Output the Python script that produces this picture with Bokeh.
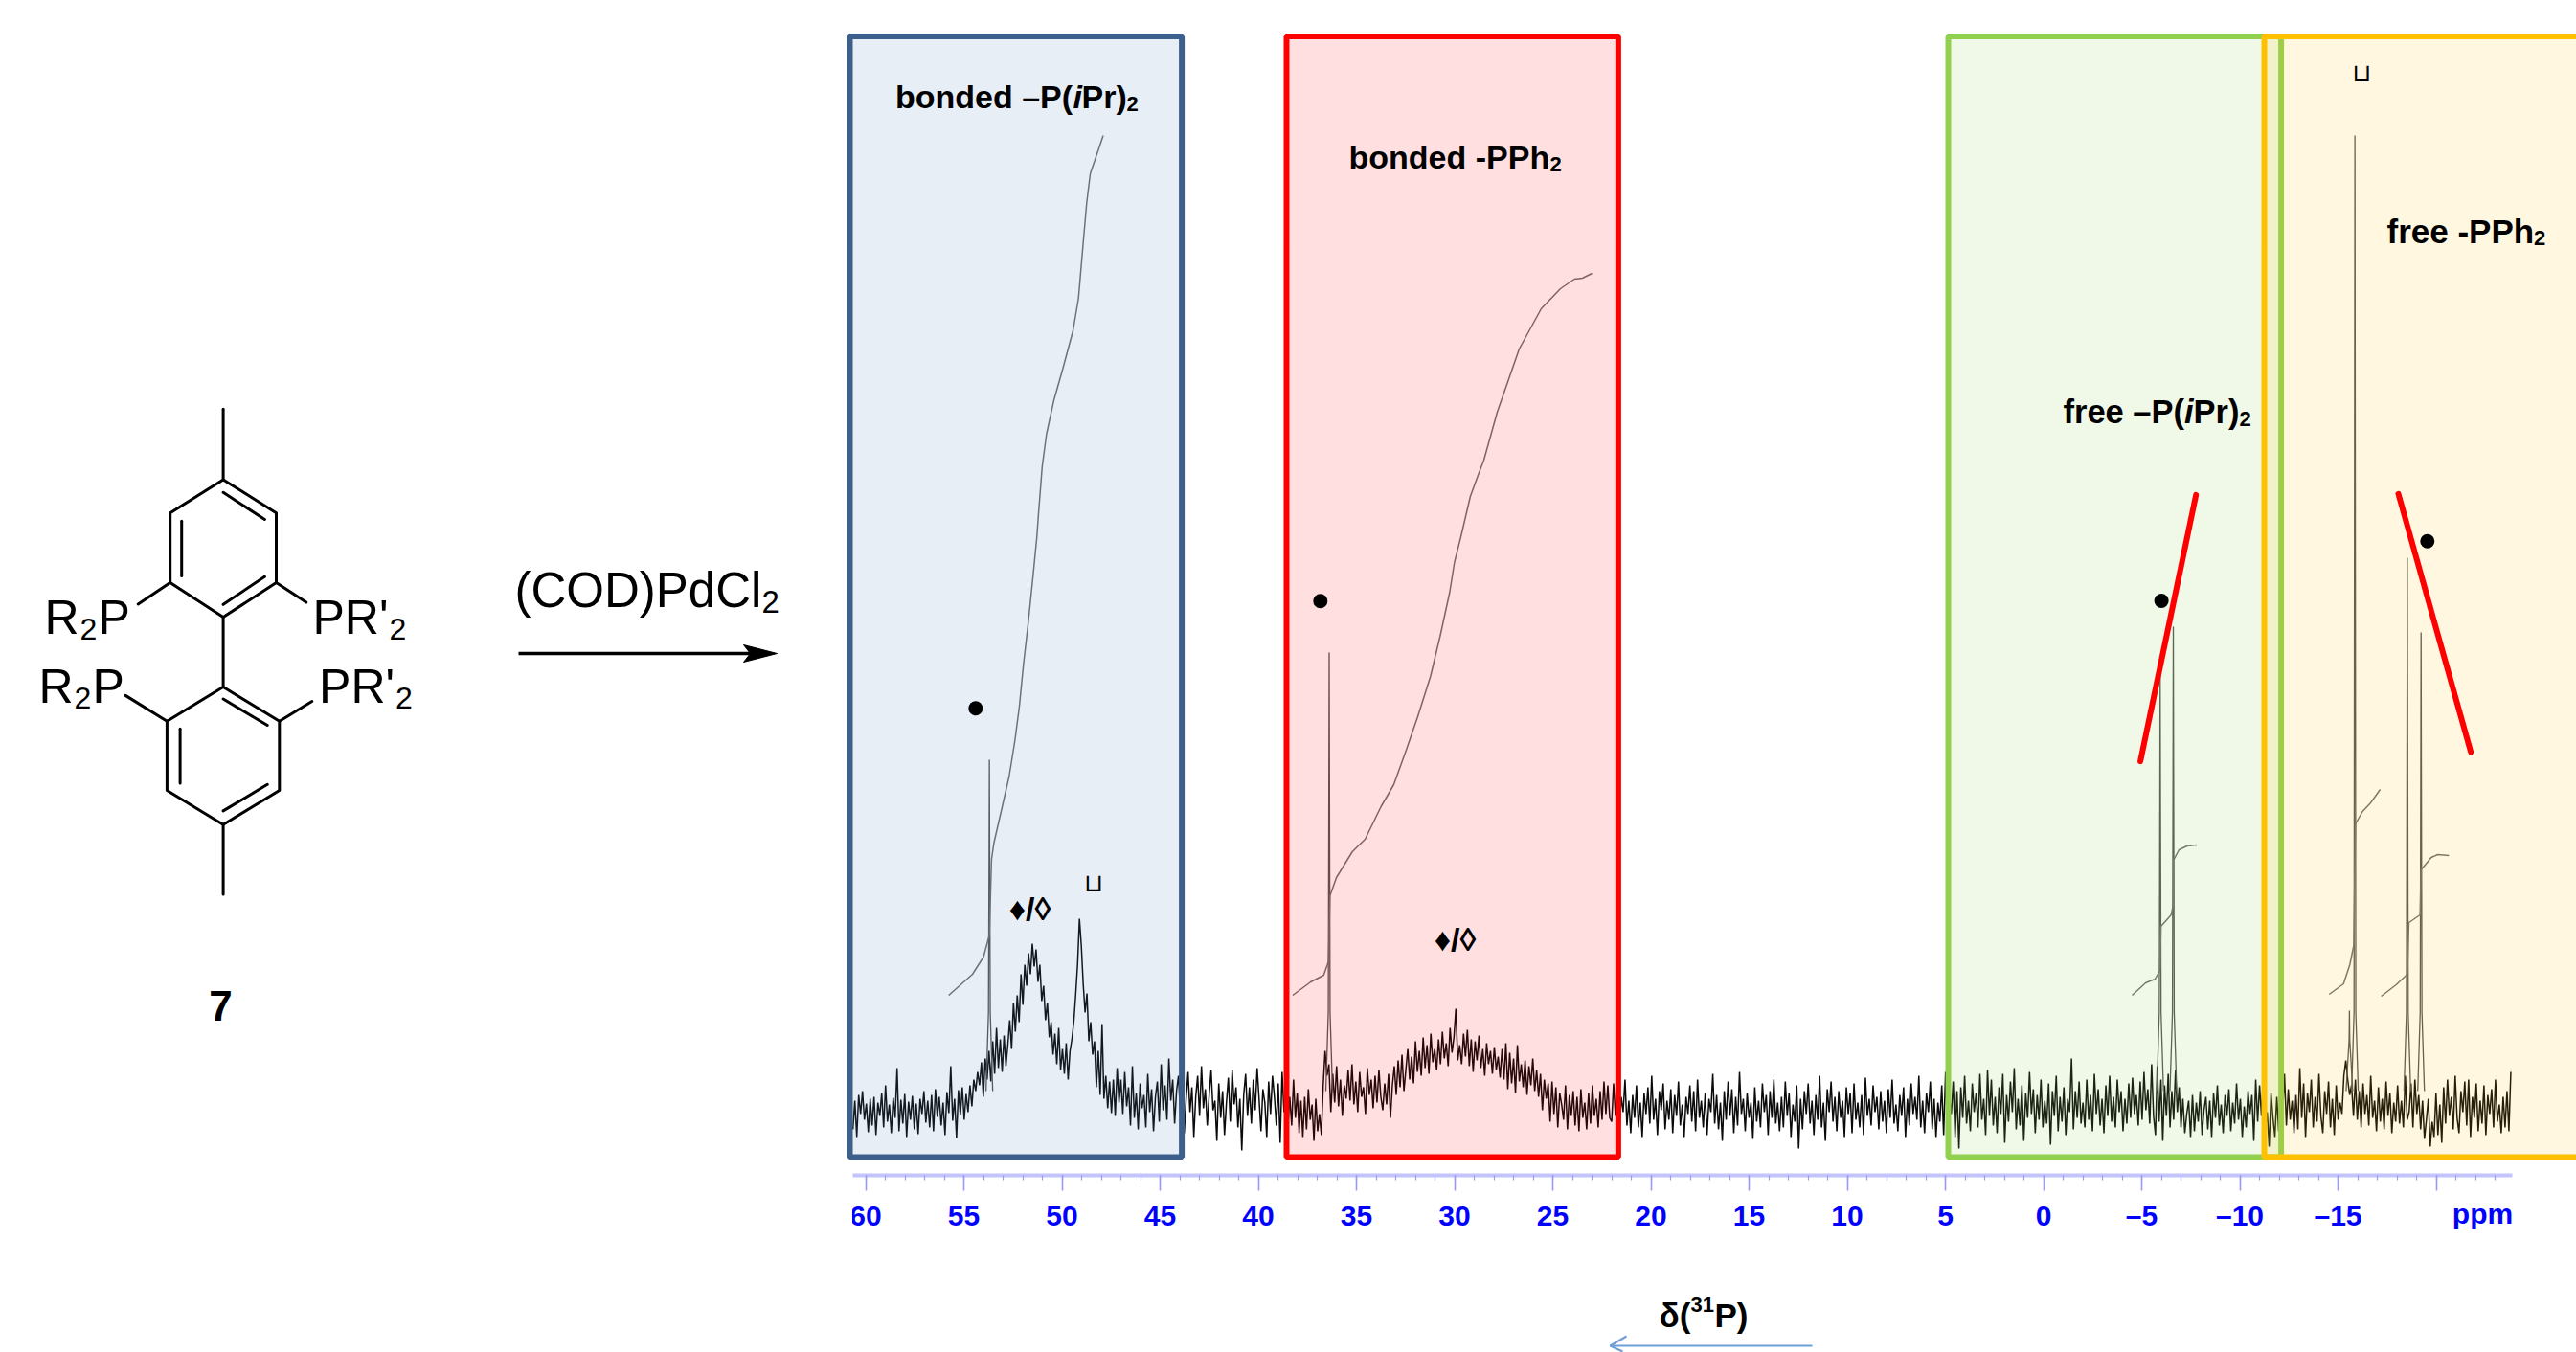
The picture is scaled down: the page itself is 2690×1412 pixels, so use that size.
from bokeh.plotting import figure
from bokeh.models import Range1d, LinearAxis, FixedTicker
from bokeh.core.properties import value
from bokeh.embed import file_html
from bokeh.resources import INLINE
import numpy as np

# ---------------- layout of the page ----------------
W, H = 2690, 1412
PX_PER_PPM = 20.5
PPM0_X = 2133.5          # picture x of 0 ppm
BASE_Y = 1157            # picture y of zero intensity
AXIS_Y = 1227
FONT = "Liberation Sans"
INK = "#000000"

# ---------------- spectrum baseline, by ppm segment ----------------
seg_a = [-22,8,-30,14,-6,18,-12,5,-25,10,-18,12,-28,6,-8,16,-20,24,-14,4,-26,11,-10,42,-24,9,-16,15,-30,7,-12,13,-22,5,-27,10,-6,18,-15,8,-20,14,-24,20,-9,12,-18,6,-28,17,-5,44,-13,10,-31,19,-7,22,-12,15,-4,24,2,30,18,38]
seg_b = [24,48,12,52,30,60,28,70,36,84,42,72,38,76,44,66,92,62,110,80,118,90,140,108,150,128,162,140,172,148,166,132,150,112,128,92,110,74,90,56,78,46,84,40,62,36,68,30,60,72,90,118,150,198,170,130,100,120,70,90,56,70,22,60,14,88,10,34,0,28,-5,30,-8,42,6]
seg_c = [30,-6,38,2,22,-18,44,-10,16,-22,26,0,14,-20,36,-4,20,-24,12,28,-14,46,-2,24,-12,52,8,30,-16,18,34,-6,16,-26,10,38,-4,22,-30,12,34,-8,44,0,20,-18,14,40,-2,8,-34,26,-10,18,-28,6,32,-14,40,4,22,-20,10,-44,14,36,-8,22,-16,30,-2,42,10,-24,20,6,-30,28,-6,34,12,-18,26,-36,38,-4,16,-20,12]
seg_d = [-18,30,-10,16,-26,8,-30,12,-22,20,-12,4,-34,10,-24,-6,-28,24]
seg_e = [60,34,46,-4,36,6,44,2,30,-8,24,10,40,8,46,4,28,-4,38,12,22,-6,42,14,30,0,34,6,40,12,-2,26,4,36,-10,24,44,14,50,22,56,18,40,62,30,54,26,70,38,60,34,74,42,66,36,78,48,62,40,72,46,80,52,68,44,84,58,74,104,50,66,46,78,54,82,44,72,38,70,50,76,42,62,34,68,46,60,36,64,40,54,32,62,30,68,20,58,26,52,16,66,28,46,22,50,14,44,24,52,18,40,12,36,-2,30,10,26,-14,28,-6,22,-20,16,4,-12,24,-22,14,-8,18,-18,12,-24,20,-10,6,-22,16,-16,24,-8,10,-20,18,-12,28,-6,24,-10]
seg_f = [-14,26,-8,18,-24,12,-4,30,-18,8,-26,14,-10,24,-20,6,-30,16,-6,22,-16,34,-12,10,-28,18,-2,26,-22,8,-12,20,-26,14,-8,28,-18,4,-30,12,-6,24,-14,18,-24,30,-10,8,-20,16,-28,10,-4,36,-16,14,-22,6,-34,18,-12,28,-8,20,-26,12,-18,38,-6,10,-24,16,-10,6,-32,22,-14,8,-20,26,-4,14,-28,18,-10,30,-16,6,-24,12,-20,28,-8,16,-30,4,-14,24,-42,10,-22,18,-6,26,-16,8,-28,14,-12,34,-20,6,-34,20,-4,28,-14,12,-24,18,-10,8,-30,22,-6,16,-26,26,-12,6,-20,14,-28,32,-8,10,-18,24,-4,12,-22,18,-14,8,-26,20,-10,30,-16,4,-24,14,-8,22,-30,10,-18,26,-6,12,-12,34,-20,8,-26,16,-4,28,-22,10,-30,6,-14,24,-28,38,-32,12]
seg_g = [-6,28,-30,18,-42,22,-10,34,-16,8,-24,26,-4,16,-20,36,-12,10,-28,40,-8,30,-18,12,-26,22,-6,36,-36,14,-14,28,-4,42,-22,10,-18,24,-34,16,-10,38,-6,20,-26,14,-12,30,-20,8,-16,26,-38,18,-8,34,-24,12,-14,22,-28,10,-4,52,-22,18,-10,28,-16,6,-20,30,-12,14,-24,36,-6,20,-18,10,-26,24,-8,34,-14,12,-20,30,-4,18,-24,10,-16,26,-10,32,-6,14,-18,28,-12,38,-2,20,-16,46,-8]
seg_h = [-28,44,-14,30,-34,24,-8,36,-20,18,-12,40,-4,22]
seg_i = [-20,10,-26,-6,8,-30,14,-24,6,-14,18,-28,-2,12,-22,8,-30,16,-10,24,-18,4,-26,14,-8,20,-24,6,-16,26,-12,10,-30,2,-20,18,-6,14,-34,30,-14,24,-8,36,-22,-4,-40,16,-10,-30,12,-24,28,-6,36,-18,20,-12,8,-26,14,-22,42,-10,26,-30,16,-4,30,-20,12,-14,36,-8,-26,18,-6,28,-20,10,-28,24,-12,6]
seg_j = [-6,34,50,30,14,24,-8,30,-12,18,-20,26,-6,14,-18,34,-10,8,-24,22,-14,10,-22,28,-8,16,-26,6,-14,24,-16,8,-20,34,-12,-4,26,-20,30,-6,14,-22,8,-32,-12,10,-40,-14,-30,16,-28,4,-36,22,-16,30,-8,12,-22,34,-10,-26,18,-4,28,-18,30,-30,12,-10,26,-24,8,-16,24,-28,14,-6,20,-20,30,-14,4,-26,12,-20,18,-24,38]
segments = [(60.65,54.2,seg_a),(54.2,47.0,seg_b),(47.0,38.3,seg_c),(38.3,36.6,seg_d),(36.6,22.0,seg_e),
            (22.0,4.7,seg_f),(4.7,-5.7,seg_g),(-5.7,-7.0,seg_h),(-7.0,-15.2,seg_i),(-15.2,-23.9,seg_j)]

# sharp peaks: position (ppm) and height
peak_ppm    = [53.70, 36.39, -5.94, -6.61, -15.86, -15.58, -18.53, -19.23]
peak_height = [364,   476,   452,   503,   1016,   102,    575,    497]

# integral curves: ppm, integral height
int1_ppm = [55.77,54.56,54.00,53.70,53.59,53.47,53.10,52.69,52.40,52.17,51.96,51.72,51.47,51.28,51.20,51.01,50.79,50.42,49.95,49.44,49.16,48.97,48.74,48.56,47.90]
int1_val = [118,140,158,181,260,277,310,347,384,420,464,507,557,597,620,670,704,739,773,812,846,892,946,976,1016]
int2_ppm = [38.25,37.33,36.67,36.43,36.35,36.02,35.21,34.56,33.75,33.10,32.45,31.88,31.23,30.74,30.25,30.01,29.68,29.20,28.79,28.51,27.83,26.71,25.59,24.61,23.90,23.49,23.00]
int2_val = [118,132,139,153,222,241,268,281,315,338,375,409,451,493,539,570,597,639,662,677,727,793,835,856,866,867,872]
int3_ppm = [-4.51,-5.20,-5.68,-5.93,-5.98,-6.50,-6.62,-6.62,-6.90,-7.31,-7.80]
int3_val = [118,131,135,144,190,202,214,259,270,274,275]
int4_ppm = [-14.55,-15.28,-15.60,-15.80,-15.89,-16.25,-16.66,-17.15]
int4_val = [119,130,150,170,297,310,319,333]
int5_ppm = [-17.20,-17.96,-18.53,-18.61,-19.18,-19.23,-19.75,-20.08,-20.65]
int5_val = [117,129,140,194,202,249,262,265,264]

tick_major = [60,55,50,45,40,35,30,25,20,15,10,5,0,-5,-10,-15,-20]
tick_minor = [v for v in range(60,-24,-1)]
tick_text = {v: (f"\u2013{-v}" if v < 0 else str(v)) for v in tick_major}
tick_text[-20] = ""

# ---------------- scheme: coloured region boxes ----------------
box_left   = [887, 1343, 2034, 2364]
box_right  = [1233.6, 1689.4, 2381.6, 2720]
box_line   = ["#3c5f8c", "#ff0000", "#92d050", "#ffc000"]
box_fill   = ["#4f81bd", "#ff0000", "#92d050", "#ffc000"]
box_alpha  = [0.135, 0.125, 0.135, 0.12]

# ---------------- scheme: structure 7 (skeleton bonds) ----------------
bond_x = [[232.6,232.6],[232.6,288,288,232.6,177.2,177.2,232.6],[232.6,275.9],[189.2,189.2],[232.6,275.9],
          [177.2,143.7],[288,319.3],[232.6,232.6],
          [232.6,291.3,291.3,232.6,173.9,173.9,232.6],[232.6,278.7],[187.6,187.6],[232.6,278.7],
          [173.9,130.6],[291.3,325.3],[232.6,232.6]]
bond_y = [[426.8,500.4],[500.4,535.3,608,644,608,535.3,500.4],[513.8,542],[543.8,601],[630.8,601.8],
          [608,630.4],[608,628.6],[644,717],
          [717,752.7,825,860.7,825,752.7,717],[729.5,757],[760.7,817.4],[846.4,818.8],
          [752.7,725.9],[752.7,732],[860.7,933.5]]

p = figure(width=W, height=H, output_backend="svg", toolbar_location=None,
           x_axis_type=None, y_axis_type=None, min_border=0,
           x_range=Range1d(0, W), y_range=Range1d(H, 0))
p.outline_line_color = None
p.grid.visible = False
p.background_fill_color = "#ffffff"
p.border_fill_color = "#ffffff"
p.extra_x_ranges["ppm"] = Range1d(PPM0_X / PX_PER_PPM, (PPM0_X - W) / PX_PER_PPM)
p.extra_y_ranges["int"] = Range1d(BASE_Y - H, BASE_Y)

# spectrum
sx, sy = [], []
for a, b, vals in segments:
    sx.extend(np.linspace(a, b, len(vals), endpoint=False).tolist())
    sy.extend(vals)
p.line(sx, sy, x_range_name="ppm", y_range_name="int", line_color="#0a0a0a", line_width=1.5)

# sharp peaks
for c, h in zip(peak_ppm, peak_height):
    m = min(100, h * 0.6)
    p.line([c - 0.17, c - 0.045, c - 0.016, c, c + 0.016, c + 0.045, c + 0.17],
           [18, m, h * 0.7, h, h * 0.7, m, 18],
           x_range_name="ppm", y_range_name="int", line_color="#555555", line_width=1.3)

# integrals
for ix, iy in [(int1_ppm, int1_val), (int2_ppm, int2_val), (int3_ppm, int3_val), (int4_ppm, int4_val), (int5_ppm, int5_val)]:
    p.line(ix, iy, x_range_name="ppm", y_range_name="int", line_color="#707070", line_width=1.5)

# boxes
p.quad(left=box_left, right=box_right, top=[37.5] * 4, bottom=[1208] * 4,
       fill_color=box_fill, fill_alpha=box_alpha, line_color=box_line, line_width=6)

# red guide lines
p.multi_line([[2234.6, 2292.7], [2504, 2579.7]], [[794.6, 516.4], [515.3, 785]],
             line_color="#ff0000", line_width=6, line_cap="round")

# axis
ax = LinearAxis(x_range_name="ppm", fixed_location=AXIS_Y)
ax.ticker = FixedTicker(ticks=tick_major, minor_ticks=tick_minor)
ax.major_label_overrides = tick_text
ax.bounds = (-23.9, 60.65)
ax.axis_line_color = "#c4c4fc"
ax.axis_line_width = 4
ax.major_tick_line_color = "#9a9af5"
ax.major_tick_line_width = 1.6
ax.major_tick_in = 0
ax.major_tick_out = 16
ax.minor_tick_line_color = "#9a9af5"
ax.minor_tick_line_width = 1.2
ax.minor_tick_in = 0
ax.minor_tick_out = 5
ax.major_label_standoff = 9
ax.major_label_text_color = "#0000ff"
ax.major_label_text_font = FONT
ax.major_label_text_font_style = "bold"
ax.major_label_text_font_size = "30px"
p.add_layout(ax, "below")
# left edge of the spectrum image crops the "60"
p.quad(left=[880], right=[889.5], top=[1250], bottom=[1290], fill_color="#ffffff", line_color=None, level="overlay")

# structure
p.multi_line(bond_x, bond_y, line_color=INK, line_width=3, line_join="round", line_cap="round")

# reaction arrow
p.line([541, 785], [682, 682], line_color=INK, line_width=3.5)
p.patch([811, 776, 783, 776], [682, 673, 682, 691], fill_color=INK, line_color=INK, line_width=1)

# dots
p.scatter([1018.3, 1378.3, 2256.6, 2534.3], [739.3, 627.3, 627, 564.7], size=15, marker="circle",
          fill_color=INK, line_color=None)

# axis direction arrow
p.multi_line([[1892, 1681], [1698, 1681, 1694]], [[1405, 1405], [1395, 1405, 1411]],
             line_color="#6f9fd8", line_width=2.2)

def label(x, y, s, size, style="normal", color=INK, align="left", font=FONT, ref=None):
    # ref: size of the main text of a line, so that sub- and superscripts follow its baseline
    y = y - 0.33 * (ref if ref else size)
    p.text([x], [y], text=[s], text_font=value(font), text_font_size=f"{size}px",
           text_font_style=style, text_color=color, text_align=align, text_baseline="alphabetic")

# structure labels
for x0, y0 in [(46, 661), (40, 733)]:
    label(x0, y0, "R", 50)
    label(x0 + 37, y0 + 12, "2", 32, ref=50)
    label(x0 + 56, y0, "P", 50)
for x0, y0 in [(326, 661), (332.6, 733)]:
    label(x0, y0, "PR'", 50)
    label(x0 + 80, y0 + 12, "2", 32, ref=50)
label(537, 633, "(COD)PdCl", 51)
label(795, 645, "2", 33, ref=51)
label(230, 1065, "7", 44, "bold", align="center")

# region labels
label(934.5, 112, "bonded \u2013P(", 34, "bold")
label(1120, 112, "i", 34, "bold italic")
label(1129, 112, "Pr)", 34, "bold")
label(1176, 119, "2", 22, "bold", ref=34)
label(1408, 175, "bonded -PPh", 34, "bold")
label(1618, 182, "2", 22, "bold", ref=34)
label(2154, 441, "free \u2013P(", 34.5, "bold")
label(2280.5, 441, "i", 34.5, "bold italic")
label(2290, 441, "Pr)", 34.5, "bold")
label(2338, 448, "2", 22, "bold", ref=34.5)
label(2492, 253, "free -PPh", 35, "bold")
label(2645.5, 260, "2", 22, "bold", ref=35)

# assignment marks
label(1075, 960, "\u2666/\u25ca", 34, "bold", align="center")
label(1519, 992, "\u2666/\u25ca", 34, "bold", align="center")
label(1141.7, 930, "\u2294", 26, align="center", font="DejaVu Sans")
label(2466, 84, "\u2294", 26, align="center", font="DejaVu Sans")

# axis extras
label(2592, 1277, "ppm", 30, "bold", "#0000ff", "center")
label(1732, 1385, "\u03b4(", 35, "bold")
label(1765, 1374, "31", 22, "bold", ref=35)
label(1790, 1385, "P)", 35, "bold")

open("out.html", "w").write(file_html(p, INLINE))
